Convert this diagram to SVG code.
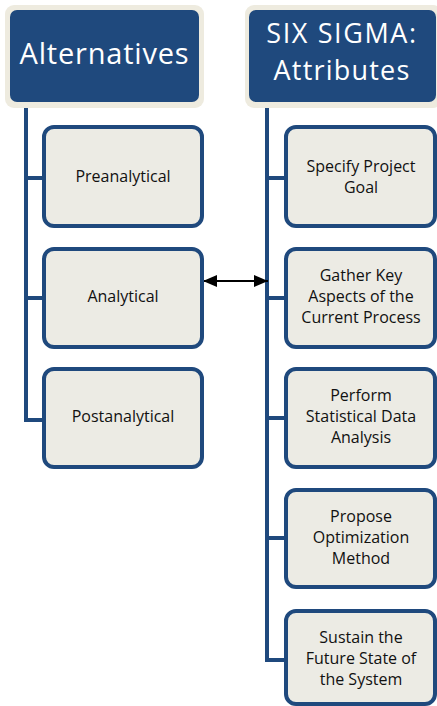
<svg xmlns="http://www.w3.org/2000/svg" width="437" height="706" viewBox="0 0 437 706">
  <style>
    .hdr-back { fill: #eeebdf; }
    .hdr { fill: #1f497d; }
    .hdr-text { fill: #ffffff; font-family: "Open Sans", "Liberation Sans", sans-serif; font-size: 29px; text-anchor: middle; }
    .hdr-text-sm { font-size: 27px; }
    .box { fill: #ecebe4; stroke: #1f497d; stroke-width: 4; }
    .box-text { fill: #111111; font-family: "Open Sans", "Liberation Sans", sans-serif; font-size: 16px; text-anchor: middle; }
    .trunk { fill: none; stroke: #1f497d; stroke-width: 4; }
    .link { fill: none; stroke: #000000; stroke-width: 2; }
  </style>
  <defs>
    <marker id="arrow-end" viewBox="0 0 14 12" refX="14" refY="6" markerWidth="14" markerHeight="12" markerUnits="userSpaceOnUse" orient="auto">
      <path d="M0,0 L14,6 L0,12 Z" fill="#000000"/>
    </marker>
    <marker id="arrow-start" viewBox="0 0 14 12" refX="0" refY="6" markerWidth="14" markerHeight="12" markerUnits="userSpaceOnUse" orient="auto">
      <path d="M14,0 L0,6 L14,12 Z" fill="#000000"/>
    </marker>
  </defs>

  <!-- tree lines -->
  <g id="connectors">
    <path class="trunk" d="M26,102 V420 H44 M26,178 H44 M26,298 H44"/>
    <path class="trunk" d="M267,102 V660 H286 M267,178 H286 M267,298 H286 M267,418 H286 M267,538 H286"/>
    <line class="link" x1="203" y1="281" x2="268" y2="281" marker-start="url(#arrow-start)" marker-end="url(#arrow-end)"/>
  </g>

  <g id="alternatives">
    <rect class="hdr-back" x="5" y="5" width="199" height="103" rx="9"/>
    <rect class="hdr" x="10" y="10" width="189" height="92" rx="7"/>
    <text class="hdr-text" x="104.5" y="64" letter-spacing="0.8">Alternatives</text>
  </g>

  <g id="six-sigma">
    <rect class="hdr-back" x="245" y="5" width="197" height="103" rx="9"/>
    <rect class="hdr" x="249" y="10" width="187" height="92" rx="7"/>
    <text class="hdr-text hdr-text-sm" x="342" y="43" letter-spacing="1.6">SIX SIGMA:</text>
    <text class="hdr-text hdr-text-sm" x="342" y="80" letter-spacing="1.2">Attributes</text>
  </g>

  <g id="preanalytical">
    <rect class="box" x="44" y="127" width="158" height="99" rx="10"/>
    <text class="box-text" x="123" y="182">Preanalytical</text>
  </g>

  <g id="analytical">
    <rect class="box" x="44" y="249" width="158" height="98" rx="10"/>
    <text class="box-text" x="123" y="302">Analytical</text>
  </g>

  <g id="postanalytical">
    <rect class="box" x="44" y="369" width="158" height="98" rx="10"/>
    <text class="box-text" x="123" y="422">Postanalytical</text>
  </g>

  <g id="specify-goal">
    <rect class="box" x="286" y="127" width="149" height="99" rx="10"/>
    <text class="box-text" x="361" y="172">Specify Project</text>
    <text class="box-text" x="361" y="193">Goal</text>
  </g>

  <g id="gather-aspects">
    <rect class="box" x="286" y="249" width="149" height="98" rx="10"/>
    <text class="box-text" x="361" y="281">Gather Key</text>
    <text class="box-text" x="361" y="302">Aspects of the</text>
    <text class="box-text" x="361" y="323">Current Process</text>
  </g>

  <g id="perform-analysis">
    <rect class="box" x="286" y="369" width="149" height="98" rx="10"/>
    <text class="box-text" x="361" y="401">Perform</text>
    <text class="box-text" x="361" y="422">Statistical Data</text>
    <text class="box-text" x="361" y="443">Analysis</text>
  </g>

  <g id="propose-method">
    <rect class="box" x="286" y="490" width="149" height="97" rx="10"/>
    <text class="box-text" x="361" y="522">Propose</text>
    <text class="box-text" x="361" y="543">Optimization</text>
    <text class="box-text" x="361" y="564">Method</text>
  </g>

  <g id="sustain-state">
    <rect class="box" x="286" y="611" width="149" height="93" rx="10"/>
    <text class="box-text" x="361" y="643">Sustain the</text>
    <text class="box-text" x="361" y="664">Future State of</text>
    <text class="box-text" x="361" y="685">the System</text>
  </g>
</svg>
